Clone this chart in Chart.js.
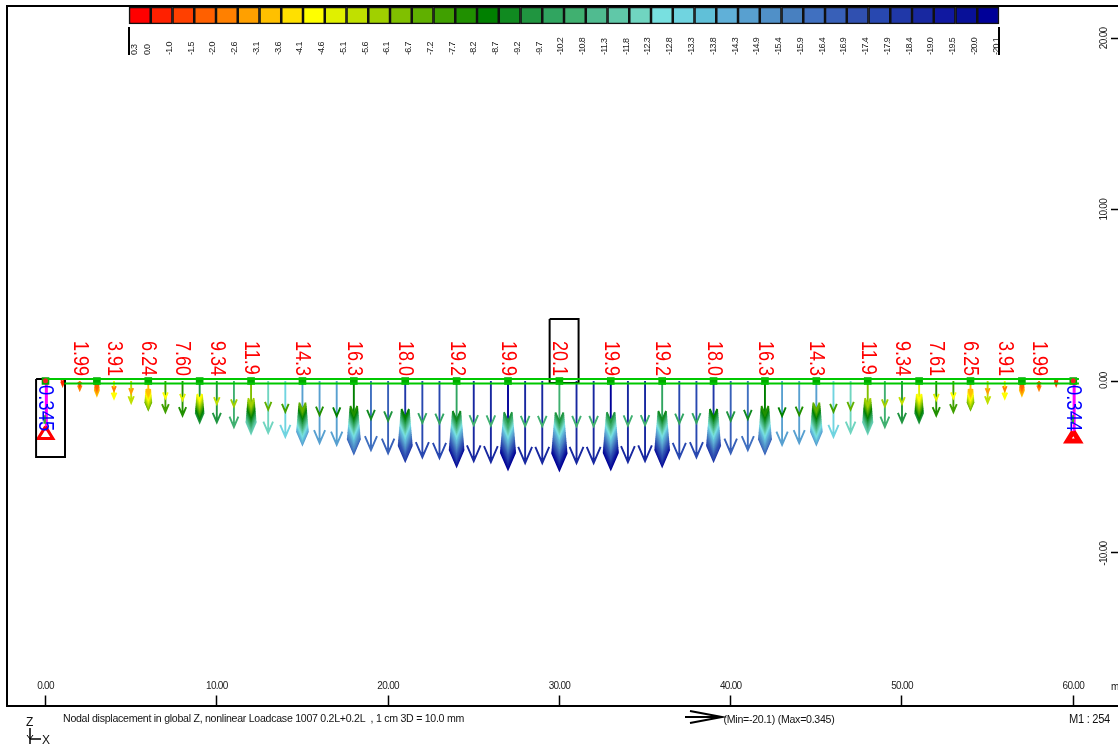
<!DOCTYPE html>
<html>
<head>
<meta charset="utf-8">
<title>Nodal displacement</title>
<script src="https://cdn.jsdelivr.net/npm/chart.js@4"></script>
<style>
html, body { margin: 0; padding: 0; background: #fff; overflow: hidden; }
canvas { display: block; }
</style>
</head>
<body>
<canvas id="myChart" width="1118" height="747"></canvas>
<script>
// displacement per node in mm
const nodeX = [1, 2, 3, 4, 5, 6, 7, 8, 9, 10, 11, 12, 13, 14, 15, 16, 17, 18, 19, 20, 21, 22, 23, 24, 25, 26, 27, 28, 29, 30,
    31, 32, 33, 34, 35, 36, 37, 38, 39, 40, 41, 42, 43, 44, 45, 46, 47, 48, 49, 50, 51, 52, 53, 54, 55, 56, 57, 58, 59];
const nodeDisp = [1.0, 1.99, 3.2, 3.91, 4.9, 6.4, 7.0, 7.8, 9.3, 9.34, 10.4, 11.8, 11.7, 12.6, 14.3, 14.0, 14.4, 16.3, 15.6, 16.3, 18.0, 17.2, 17.4, 19.2, 18.1, 18.3, 19.9, 18.5, 18.5, 20.1,
    18.5, 18.5, 19.9, 18.3, 18.1, 19.2, 17.4, 17.2, 18.0, 16.3, 15.6, 16.3, 14.4, 14.0, 14.3, 12.6, 11.7, 11.8, 10.4, 9.34, 9.3, 7.8, 7.0, 6.4, 4.9, 3.91, 3.2, 1.99, 1.0];
const fatNodes = [3, 6, 9, 12, 15, 18, 21, 24, 27, 30, 33, 36, 39, 42, 45, 48, 51, 54, 57];
const halfShaftNodes = [6, 12, 18, 24, 30, 36, 42, 48, 51, 54];
const squareNodes = [0, 3, 6, 9, 12, 15, 18, 21, 24, 27, 30, 33, 36, 39, 42, 45, 48, 51, 54, 57, 60];

const labelNodes = [2, 4, 6, 8, 10, 12, 15, 18, 21, 24, 27, 30, 33, 36, 39, 42, 45, 48, 50, 52, 54, 56, 58];
const labelTexts = ['1.99', '3.91', '6.24', '7.60', '9.34', '11.9', '14.3', '16.3', '18.0', '19.2', '19.9', '20.1',
    '19.9', '19.2', '18.0', '16.3', '14.3', '11.9', '9.34', '7.61', '6.25', '3.91', '1.99'];
const supportNodes = [0, 60];
const supportTexts = ['0.345', '0.344'];

const legendColors = ['#ff0000', '#ff2000', '#ff4000', '#ff6000', '#ff8000', '#ffa000', '#ffc000', '#ffe000', '#ffff00', '#e0f000',
    '#c0e000', '#a0d000', '#80c000', '#60b000', '#40a000', '#209000', '#008000', '#108a20', '#209540', '#30a560',
    '#40b070', '#50bb90', '#60c8a8', '#70d5c0', '#78e0e0', '#70d4e0', '#60c0d8', '#60b0d8', '#58a0d0', '#5090c8',
    '#4880c0', '#4070c0', '#3860b8', '#3050b0', '#2848b0', '#2038a8', '#1828a0', '#1018a0', '#081098', '#000098'];
const legendLabels = ['0.3', '0.0', '-1.0', '-1.5', '-2.0', '-2.6', '-3.1', '-3.6', '-4.1', '-4.6', '-5.1', '-5.6', '-6.1', '-6.7',
    '-7.2', '-7.7', '-8.2', '-8.7', '-9.2', '-9.7', '-10.2', '-10.8', '-11.3', '-11.8', '-12.3', '-12.8', '-13.3', '-13.8',
    '-14.3', '-14.9', '-15.4', '-15.9', '-16.4', '-16.9', '-17.4', '-17.9', '-18.4', '-19.0', '-19.5', '-20.0', '-20.1'];

const xTickValues = [0, 10, 20, 30, 40, 50, 60];
const xTickLabels = ['0.00', '10.00', '20.00', '30.00', '40.00', '50.00', '60.00'];
const yTickValues = [-10, 0, 10, 20];
const yTickLabels = ['-10.00', '0.00 ', '10.00', '20.00'];

const dispMin = -20.1, dispMax = 0.345;
const arrowUnit = 0.2586; // axis units per mm on the drawing

function colorIndex(v) {
    const i = Math.floor((v + 0.3) / ((0.3 + 20.1) / legendColors.length));
    return Math.max(0, Math.min(legendColors.length - 1, i));
}

// every arrow stroke goes into the bucket of its colour, null points break the line
const buckets = legendColors.map(() => []);
function addStroke(v, pts) {
    const b = buckets[colorIndex(v)];
    pts.forEach(p => b.push(p));
    b.push({ x: pts[0].x, y: null });
}
function addHead(x, v) {
    const d = v * arrowUnit;
    const h = 0.16 * d + 0.175;
    const w = 0.07 * d + 0.07;
    addStroke(v, [{ x: x - w, y: -d + h }, { x: x, y: -d }, { x: x + w, y: -d + h }]);
}
nodeX.forEach((x, i) => {
    const v = nodeDisp[i];
    const fat = fatNodes.includes(x);
    if (fat && halfShaftNodes.includes(x)) {
        addStroke(v * 0.5, [{ x: x, y: 0 }, { x: x, y: -v * 0.5 * arrowUnit }]);
        addStroke(v, [{ x: x, y: -v * 0.5 * arrowUnit }, { x: x, y: -v * arrowUnit }]);
    } else {
        addStroke(v, [{ x: x, y: 0 }, { x: x, y: -v * arrowUnit }]);
    }
    if (fat) {
        for (let s = v * 0.46; s < v; s += 0.25) addHead(x, s);
    } else {
        addHead(x, v * 0.55);
    }
    addHead(x, v);
});

function rect(x0, y0, x1, y1) {
    return [{ x: x0, y: y0 }, { x: x1, y: y0 }, { x: x1, y: y1 }, { x: x0, y: y1 }, { x: x0, y: y0 }];
}
function lineSet(data, color, width) {
    return { type: 'line', data: data, borderColor: color, borderWidth: width, pointRadius: 0, tension: 0, fill: false };
}

const datasets = [
    // beam
    lineSet([{ x: 0, y: 0.117 }, { x: 60.33, y: 0.117 }, { x: 0, y: null }, { x: 1.1, y: -0.146 }, { x: 60.33, y: -0.146 }], '#00c800', 2.2),
    // node squares
    {
        type: 'line', showLine: false, data: squareNodes.map(x => ({ x: x, y: 0 })),
        pointStyle: 'rect', pointRadius: 5.4, pointBackgroundColor: '#00a800', pointBorderWidth: 0
    },
    // red end nodes
    {
        type: 'line', showLine: false, data: supportNodes.map(x => ({ x: x, y: 0.02 })),
        pointStyle: 'circle', pointRadius: 2.5, pointBackgroundColor: '#f02020', pointBorderWidth: 0, order: -1
    },
    // marked boxes
    lineSet(rect(-0.55, 0.117, 1.14, -4.44), '#000', 2),
    lineSet(rect(29.43, 3.62, 31.12, -0.117), '#000', 2),
    // supports
    lineSet([{ x: 0, y: -2.66 }, { x: 0.43, y: -3.36 }, { x: -0.43, y: -3.36 }, { x: 0, y: -2.66 }], '#ff0000', 3),
    lineSet([{ x: 60, y: -2.95 }, { x: 60.34, y: -3.5 }, { x: 59.66, y: -3.5 }, { x: 60, y: -2.95 }], '#ff0000', 5),
    lineSet([{ x: -0.05, y: -2.0 }, { x: -0.05, y: -2.5 }, { x: 0, y: null }, { x: 59.97, y: -2.0 }, { x: 59.97, y: -2.5 }], '#30b030', 2.5),
    lineSet([{ x: 0.05, y: 0 }, { x: 0.05, y: -2.9 }, { x: 0, y: null }, { x: 60.05, y: 0 }, { x: 60.05, y: -3 }], '#ff00ff', 3)
];
// first dataset is painted last, so the shallow strokes stay on top of the deep ones
buckets.forEach((b, i) => {
    if (b.length) datasets.push(lineSet(b, legendColors[i], 1.9));
});
// colour scale along the top, on its own x axis
datasets.push({
    type: 'bar', xAxisID: 'legendAxis', yAxisID: 'y', grouped: false, barThickness: 21.75,
    data: legendColors.map((c, i) => ({ x: i + 0.5, y: [20.84, 21.83] })),
    backgroundColor: legendColors, borderColor: '#111', borderWidth: 1.6, borderSkipped: false
});
const legendEdge = lineSet([{ x: 0, y: 20.67 }, { x: 0, y: 19.03 }, { x: 0, y: null }, { x: 40, y: 20.67 }, { x: 40, y: 19.03 }], '#000', 2);
legendEdge.xAxisID = 'legendAxis';
datasets.push(legendEdge);

function rotatedText(ctx, text, px, py, font, color, squeeze) {
    ctx.save();
    ctx.letterSpacing = '0px';
    ctx.translate(px, py);
    ctx.rotate(Math.PI / 2);
    ctx.scale(squeeze, 1);
    ctx.font = font;
    ctx.fillStyle = color;
    ctx.textAlign = 'left';
    ctx.textBaseline = 'middle';
    ctx.fillText(text, 0, 0);
    ctx.restore();
}
function plainText(ctx, text, px, py, size, maxWidth) {
    ctx.font = size + 'px "Liberation Sans"';
    ctx.fillStyle = '#111';
    ctx.textAlign = 'left';
    ctx.textBaseline = 'middle';
    if (maxWidth) ctx.fillText(text, px, py, maxWidth);
    else ctx.fillText(text, px, py);
}
function stroke(ctx, pts, width) {
    ctx.beginPath();
    ctx.lineWidth = width;
    ctx.strokeStyle = '#000';
    pts.forEach((p, i) => i ? ctx.lineTo(p[0], p[1]) : ctx.moveTo(p[0], p[1]));
    ctx.stroke();
}

const drawingText = {
    id: 'drawingText',
    beforeDraw(chart) {
        // the original drawing has tight text everywhere
        chart.ctx.letterSpacing = '-0.7px';
    },
    beforeDatasetsDraw(chart) {
        const ctx = chart.ctx, a = chart.chartArea, x = chart.scales.x, y = chart.scales.y;
        stroke(ctx, [[a.left, a.bottom], [a.left, a.top], [a.right, a.top]], 2);
        labelNodes.forEach((n, i) => {
            rotatedText(ctx, labelTexts[i], x.getPixelForValue(n), y.getPixelForValue(2.335), '22px "Liberation Sans"', '#ff0000', 0.82);
        });
    },
    afterDatasetsDraw(chart) {
        const ctx = chart.ctx, x = chart.scales.x, y = chart.scales.y;
        supportNodes.forEach((n, i) => {
            rotatedText(ctx, supportTexts[i], x.getPixelForValue(n), y.getPixelForValue(-0.23), '22px "Liberation Sans"', '#0000ff', 0.84);
        });
    },
    afterDraw(chart) {
        const ctx = chart.ctx;
        ctx.save();
        ctx.letterSpacing = '-0.3px';
        plainText(ctx, 'Nodal displacement in global Z, nonlinear Loadcase 1007 0.2L+0.2L  , 1 cm 3D = 10.0 mm', 63, 719, 11.5, 401);
        plainText(ctx, '(Min=' + dispMin + ') (Max=' + dispMax + ')', 723.5, 719.5, 11.5, 111);
        plainText(ctx, 'M1 : 254', 1069, 720, 12, 41);
        plainText(ctx, 'm', 1111, 687, 10);
        plainText(ctx, 'Z', 26, 722.5, 12);
        plainText(ctx, 'X', 42, 741, 12);
        stroke(ctx, [[685, 717], [722, 717]], 2);
        stroke(ctx, [[690, 711], [722, 717], [690, 723]], 2);
        stroke(ctx, [[30, 728], [30, 744]], 1.5);
        stroke(ctx, [[30, 739], [41, 739]], 1.5);
        stroke(ctx, [[27, 735], [30, 739], [33, 735]], 1);
        ctx.restore();
    }
};

// axes sit flat on the frame, their labels go inside the plot
function flatAxis(s) {
    s.height = s.isHorizontal() ? 0 : s.height;
    s.width = s.isHorizontal() ? s.width : 0;
    s.paddingLeft = s.paddingRight = s.paddingTop = s.paddingBottom = 0;
}

Chart.defaults.font.family = '"Liberation Sans", Arial, sans-serif';
Chart.defaults.color = '#222';

new Chart(document.getElementById('myChart'), {
    type: 'scatter',
    data: { datasets: datasets },
    plugins: [drawingText],
    options: {
        responsive: false,
        animation: false,
        layout: { autoPadding: false, padding: { left: 7, top: 6, right: 0, bottom: 41.5 } },
        plugins: { legend: { display: false }, tooltip: { enabled: false }, title: { display: false } },
        events: [],
        scales: {
            x: {
                type: 'linear', position: 'bottom', min: -2.2475, max: 62.61, offset: false,
                afterFit: flatAxis,
                afterBuildTicks: s => { s.ticks = xTickValues.map(v => ({ value: v })); },
                grid: { drawOnChartArea: false, offset: false, tickLength: -10, tickColor: '#000', tickWidth: 1.5 },
                border: { display: true, color: '#000', width: 2 },
                ticks: {
                    mirror: true, padding: 12.8, autoSkip: false, maxRotation: 0, font: { size: 10 },
                    callback: (v, i) => xTickLabels[i]
                }
            },
            y: {
                type: 'linear', position: 'right', min: -18.94, max: 21.89,
                afterFit: flatAxis,
                afterBuildTicks: s => { s.ticks = yTickValues.map(v => ({ value: v })); },
                grid: { drawOnChartArea: false, tickLength: -7, tickColor: '#000', tickWidth: 1.5 },
                border: { display: false },
                ticks: {
                    mirror: true, padding: -14, labelOffset: -10.75, autoSkip: false, minRotation: 90, maxRotation: 90, font: { size: 10 },
                    callback: (v, i) => yTickLabels[i]
                }
            },
            legendAxis: {
                type: 'linear', axis: 'x', position: 'top', min: -5.609, max: 45.47, offset: false,
                afterFit: flatAxis,
                afterBuildTicks: s => { s.ticks = legendLabels.map((t, i) => ({ value: i === 0 ? 0.37 : i })); },
                grid: { display: false, offset: false },
                border: { display: false },
                ticks: {
                    mirror: true, padding: 49, labelOffset: -3, autoSkip: false, minRotation: 90, maxRotation: 90, font: { size: 9 },
                    callback: (v, i) => legendLabels[i]
                }
            }
        }
    }
});
</script>
</body>
</html>
